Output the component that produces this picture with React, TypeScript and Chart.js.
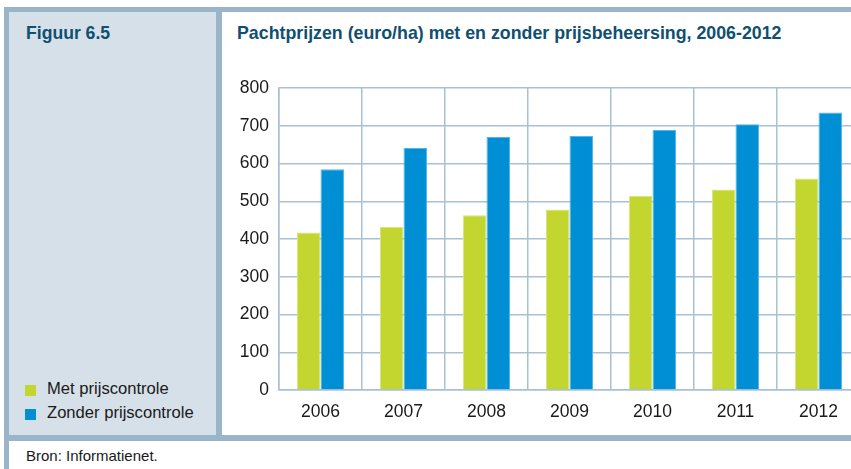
import React, { useEffect, useRef } from "react";
import { Chart, registerables } from "chart.js";

Chart.register(...registerables);

const years = ["2006", "2007", "2008", "2009", "2010", "2011", "2012"];
const metPrijscontrole = [417, 432, 463, 478, 514, 531, 560];
const zonderPrijscontrole = [585, 641, 670, 673, 689, 704, 735];
const seriesNames = ["Met prijscontrole", "Zonder prijscontrole"];
const yTicks = [0, 100, 200, 300, 400, 500, 600, 700, 800];

const GREEN = "#c2d62f";
const GREEN_EDGE = "#d9e57f";
const BLUE = "#008fd5";
const BLUE_EDGE = "#55b6e8";
const BAND = "#9ab5ca";
const PANEL = "#d6e0e8";
const TITLE = "#0f4f70";
const GRID = "#a9c1d4";
const FONT = "'Liberation Sans', Arial, sans-serif";

export default function App() {
  const ref = useRef<HTMLCanvasElement | null>(null);

  useEffect(() => {
    if (!ref.current) return;
    const chart = new Chart(ref.current, {
      type: "bar",
      data: {
        labels: years,
        datasets: [
          {
            label: seriesNames[0],
            data: metPrijscontrole,
            backgroundColor: GREEN,
            borderColor: GREEN_EDGE,
            borderWidth: 1,
            barPercentage: 1,
            categoryPercentage: 0.566,
          },
          {
            label: seriesNames[1],
            data: zonderPrijscontrole,
            backgroundColor: BLUE,
            borderColor: BLUE_EDGE,
            borderWidth: 1,
            barPercentage: 1,
            categoryPercentage: 0.566,
          },
        ],
      },
      options: {
        animation: false,
        responsive: false,
        maintainAspectRatio: false,
        layout: { padding: { top: 28, right: 0, left: 0, bottom: 0 } },
        plugins: { legend: { display: false }, tooltip: { enabled: false } },
        scales: {
          x: {
            grid: { color: GRID, lineWidth: 1.5, drawTicks: false, offset: true },
            border: { color: GRID, width: 1.5 },
            ticks: {
              color: "#1a1a1a",
              font: { family: FONT, size: 17.5 },
              padding: 12,
              maxRotation: 0,
            },
            afterFit: (s: any) => {
              s.height = 45;
            },
          },
          y: {
            min: 0,
            max: 800,
            afterBuildTicks: (s: any) => {
              s.ticks = yTicks.map((v) => ({ value: v }));
            },
            grid: { color: GRID, lineWidth: 1.5, drawTicks: false },
            border: { color: GRID, width: 1.5 },
            ticks: {
              color: "#1a1a1a",
              font: { family: FONT, size: 17.5 },
              padding: 10,
            },
            afterFit: (s: any) => {
              s.width = 57;
            },
          },
        },
      },
    });
    return () => chart.destroy();
  }, []);

  const abs = (o: React.CSSProperties): React.CSSProperties => ({ position: "absolute", ...o });

  return (
    <div
      style={{
        position: "absolute",
        left: 0,
        top: 0,
        width: 851,
        height: 469,
        overflow: "hidden",
        background: "#ffffff",
        fontFamily: FONT,
      }}
    >
      <div style={abs({ left: 4, top: 7, width: 847, height: 5, background: BAND })} />
      <div style={abs({ left: 4, top: 7, width: 5, height: 462, background: BAND })} />
      <div style={abs({ left: 9, top: 12, width: 207, height: 423, background: PANEL })} />
      <div style={abs({ left: 216, top: 12, width: 6, height: 423, background: BAND })} />
      <div style={abs({ left: 9, top: 435, width: 842, height: 6, background: BAND })} />

      <div
        style={abs({
          left: 26,
          top: 22,
          fontSize: 17.6,
          fontWeight: "bold",
          color: TITLE,
          lineHeight: "22px",
          whiteSpace: "nowrap",
        })}
      >
        Figuur 6.5
      </div>
      <div
        style={abs({
          left: 237,
          top: 22,
          fontSize: 17.8,
          fontWeight: "bold",
          color: TITLE,
          lineHeight: "22px",
          whiteSpace: "nowrap",
        })}
      >
        Pachtprijzen (euro/ha) met en zonder prijsbeheersing, 2006-2012
      </div>

      <div style={abs({ left: 25, top: 385, width: 11, height: 11, background: GREEN })} />
      <div
        style={abs({ left: 47, top: 379, fontSize: 16.6, color: "#1a1a1a", lineHeight: "20px", whiteSpace: "nowrap" })}
      >
        {seriesNames[0]}
      </div>
      <div style={abs({ left: 25, top: 409, width: 11, height: 11, background: BLUE })} />
      <div
        style={abs({ left: 47, top: 403, fontSize: 16.6, color: "#1a1a1a", lineHeight: "20px", whiteSpace: "nowrap" })}
      >
        {seriesNames[1]}
      </div>

      <div
        style={abs({ left: 26, top: 447, fontSize: 15, color: "#1a1a1a", lineHeight: "18px", whiteSpace: "nowrap" })}
      >
        Bron: Informatienet.
      </div>

      <canvas
        ref={ref}
        width={638}
        height={375}
        style={abs({ left: 222, top: 60, width: 638, height: 375 })}
      />
    </div>
  );
}
